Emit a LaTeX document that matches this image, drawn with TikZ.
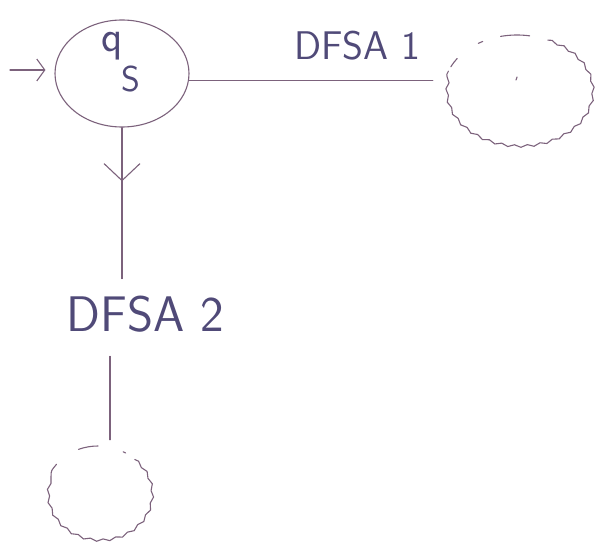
\documentclass[tikz,border=0pt]{standalone}
\usetikzlibrary{shapes.geometric,arrows.meta,decorations.pathmorphing,decorations.markings,calc}
\definecolor{pen}{RGB}{124,98,124}
\definecolor{ink}{RGB}{80,74,120}
\begin{document}
\begin{tikzpicture}[x=1pt,y=1pt,
  line/.style={draw=pen, line width=1.1pt, line cap=round},
  wavy/.style={line, decorate, decoration={snake, amplitude=1.2pt, segment length=13pt}},
  txt/.style={text=ink, inner sep=0pt, font=\sffamily\fontsize{#1}{#1}\selectfont},
  barb/.style={-{Straight Barb[length=8pt,width=22pt]}},
  midbarb/.style={postaction={decorate}, decoration={markings,
      mark=at position #1 with {\arrow[pen,line width=1.1pt]{Straight Barb[length=17pt,width=36pt]}}}}
]
\useasboundingbox (0,0) rectangle (599,547);

% start state
\node[draw=pen, line width=1.1pt, ellipse, minimum width=134pt, minimum height=107pt, inner sep=0pt] (qs) at (122,473.5) {};
\node[txt=36] (qslabel) at (121,484.5) {{\fontsize{44}{44}\selectfont q}\hspace{-2pt}\raisebox{-40pt}{S}};

% sub-automaton placeholders
\node[ellipse, minimum width=146pt, minimum height=110pt, inner sep=0pt] (blob1) at (517,457) {};
\node[ellipse, minimum width=104pt, minimum height=92pt, inner sep=0pt] (blob2) at (98,55) {};

% labels
\node[txt=40] (dfsa1) at (357,501) {DFSA 1};
\node[txt=50] (dfsa2) at (145,233) {DFSA 2};

% initial arrow
\coordinate (in) at (10,477);
\draw[line, barb, shorten >=9pt] (in) -- (in -| qs.west);

% edge to DFSA 1
\draw[line, shorten >=11pt] (qs.-6) -- (qs.-6 -| blob1.west);

% edge to DFSA 2
\draw[line, midbarb=0.32, shorten >=17pt] (qs.south) -- (qs.south |- dfsa2.north);
\draw[line, shorten <=24pt, shorten >=6pt] ($(dfsa2.south)+(-35,0)$) coordinate (d2a) -- (d2a |- blob2.north);

% wavy outline of DFSA 1
\draw[wavy] ($(blob1.center)+(65:73 and 55)$) arc[start angle=65, end angle=-200, x radius=73, y radius=55];
\draw[line] ($(blob1.center)+(80:73 and 55)$) arc[start angle=80, end angle=103, x radius=73, y radius=55];
\draw[line] ($(blob1.center)+(118:73 and 55)$) arc[start angle=118, end angle=122, x radius=73, y radius=55];
\draw[line] ($(blob1.center)+(145:73 and 55)$) arc[start angle=145, end angle=155, x radius=73, y radius=55];
\draw[line] ($(blob1.center)+(-1,10)$) -- ($(blob1.center)+(0,13)$);

% wavy outline of DFSA 2
\draw[wavy] ($(blob2.center)+(45:52 and 46)$) arc[start angle=45, end angle=-217, x radius=52, y radius=46];
\draw[line] ($(blob2.center)+(90:52 and 46)$) arc[start angle=90, end angle=112, x radius=52, y radius=46];
\draw[line] ($(blob2.center)+(58:52 and 46)$) arc[start angle=58, end angle=61, x radius=52, y radius=46];
\end{tikzpicture}
\end{document}
